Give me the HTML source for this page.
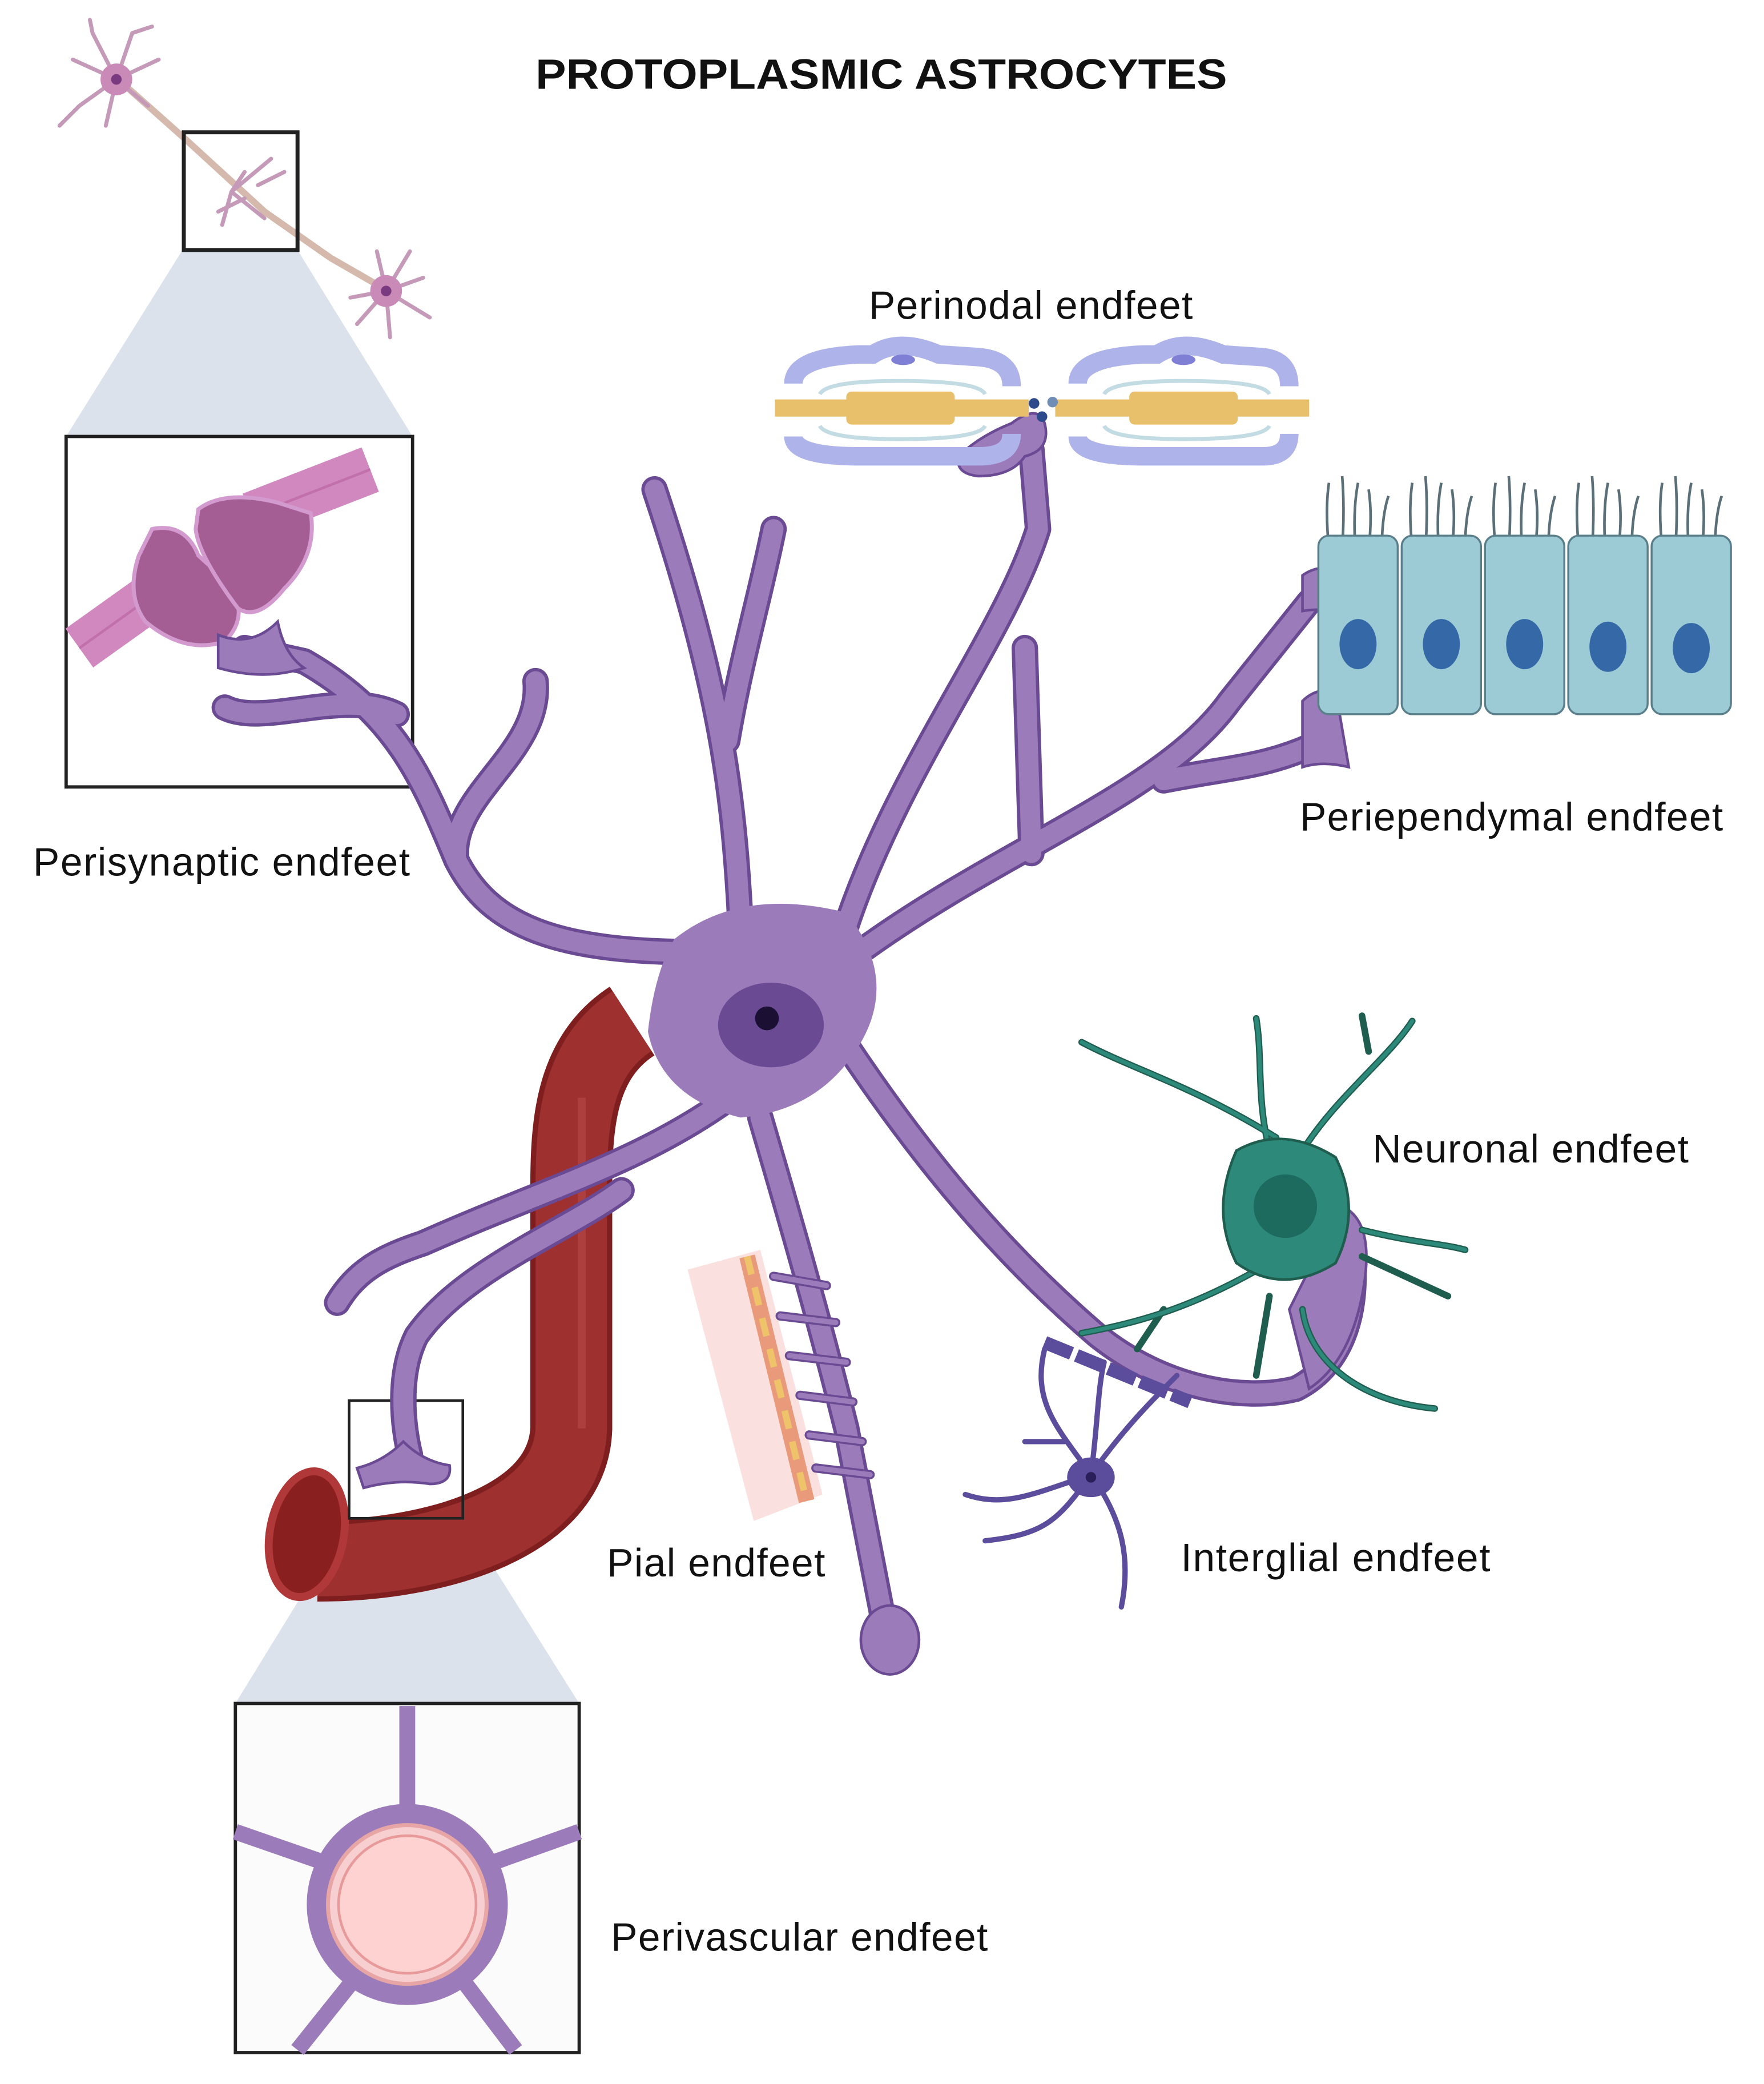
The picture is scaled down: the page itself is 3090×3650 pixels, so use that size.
<!DOCTYPE html>
<html><head><meta charset="utf-8"><style>
html,body{margin:0;padding:0;background:#fff;}
svg{display:block;}
text{font-family:"Liberation Sans",sans-serif;fill:#111;}
</style></head><body>
<svg width="3090" height="3650" viewBox="0 0 1334 1575.7" xmlns="http://www.w3.org/2000/svg">
<rect width="1334" height="1576" fill="#fff"/>
<text x="405" y="67" font-size="32" font-weight="bold" textLength="523" lengthAdjust="spacingAndGlyphs">PROTOPLASMIC ASTROCYTES</text>

<!-- trapezoids -->
<polygon points="138,189 225,189 312,330 50,330" fill="#dbe2ec"/>
<polygon points="264,1148 350,1148 438,1288 178,1288" fill="#dbe2ec"/>

<!-- top neurons -->
<g stroke="#c49ab8" fill="none" stroke-linecap="round">
<path d="M95,65 L140,105 L200,160 L250,195 L290,218" stroke="#d6b9ad" stroke-width="5"/>
<g stroke-width="3">
<path d="M88,60 L55,45 M88,60 L60,80 M88,60 L70,25 M88,60 L100,25 M88,60 L120,45 M88,60 L112,80 M88,60 L80,95 M100,25 L115,20 M60,80 L45,95 M70,25 L68,15"/>
<path d="M292,220 L270,245 M292,220 L320,210 M292,220 L310,190 M292,220 L285,190 M292,220 L325,240 M292,220 L295,255 M292,220 L265,225"/>
<path d="M175,145 L205,120 M175,145 L185,130 M175,145 L168,170 M175,145 L200,165 M185,150 L165,160 M195,140 L215,130"/>
</g></g>
<circle cx="88" cy="60" r="12" fill="#c98ab8"/><circle cx="88" cy="60" r="4" fill="#7a3a80"/>
<circle cx="292" cy="220" r="12" fill="#c98ab8"/><circle cx="292" cy="220" r="4" fill="#7a3a80"/>
<rect x="139" y="100" width="86" height="89" fill="none" stroke="#222" stroke-width="3"/>

<!-- perisynaptic box -->
<rect x="50" y="330" width="262" height="265" fill="#fff" stroke="#222" stroke-width="2.5"/>
<path d="M60,490 L130,440 M190,390 L280,355" stroke="#d088bf" stroke-width="36" stroke-linecap="butt"/>
<path d="M60,490 L130,440 M190,390 L280,355" stroke="#b7609f" stroke-width="2" stroke-opacity="0.6"/>
<path d="M115,400 Q140,395 150,420 L172,440 Q190,465 170,485 Q140,495 110,470 Q95,450 105,420 Z" fill="#a45e94" stroke="#d39ad0" stroke-width="3"/>
<path d="M150,385 Q170,370 210,380 L235,388 Q240,420 215,445 Q195,470 180,460 Q150,420 148,400 Z" fill="#a45e94" stroke="#d39ad0" stroke-width="3"/>

<!-- blood vessel -->
<path d="M478,772 C435,800 432,850 432,900 L432,1080 C430,1150 330,1180 240,1180" fill="none" stroke="#7f1e1e" stroke-width="62"/>
<path d="M478,772 C435,800 432,850 432,900 L432,1080 C430,1150 330,1180 240,1180" fill="none" stroke="#9e3030" stroke-width="54"/>
<path d="M440,830 L440,1080" stroke="#b84a4a" stroke-width="6" opacity="0.6"/>
<ellipse cx="232" cy="1160" rx="28" ry="48" fill="#8a1f1f" stroke="#b03838" stroke-width="6" transform="rotate(10 232 1160)"/>
<rect x="264" y="1059" width="86" height="89" fill="none" stroke="#222" stroke-width="2"/>

<!-- pial -->
<polygon points="520,960 575,945 622,1130 570,1150" fill="#fbe0e0"/>
<path d="M565,950 L610,1135" stroke="#e89a7a" stroke-width="12"/>
<path d="M565,950 L610,1135" stroke="#eec36a" stroke-width="5" stroke-dasharray="14 10"/>

<!-- astrocyte processes -->
<g fill="none" stroke-linecap="round" stroke-linejoin="round">
<g stroke="#6a4a93" stroke-width="20">
<path d="M530,720 C420,720 370,700 345,650 C320,590 300,540 230,500 L185,490"/>
<path d="M300,540 C260,520 200,550 170,535"/>
<path d="M345,650 C340,600 410,570 405,515"/>
<path d="M560,700 C555,600 545,520 495,370"/>
<path d="M550,560 C560,500 575,450 585,400"/>
<path d="M640,700 C680,580 760,480 785,400 L780,340"/>
<path d="M650,720 C760,640 880,600 930,530 L990,455"/>
<path d="M880,590 C930,580 960,580 1000,560"/>
<path d="M780,645 L775,490"/>
<path d="M640,790 C700,880 760,950 830,1010 C880,1050 940,1060 980,1050 C1020,1030 1030,980 1020,930"/>
<path d="M575,845 C600,930 620,1000 640,1080 L670,1235"/>
<path d="M545,835 C480,880 410,900 320,940 C290,950 270,960 255,985"/>
<path d="M470,900 C430,930 350,960 315,1010 C300,1040 305,1080 310,1100"/>
</g>
<g stroke="#9b7bb9" stroke-width="15">
<path d="M530,720 C420,720 370,700 345,650 C320,590 300,540 230,500 L185,490"/>
<path d="M300,540 C260,520 200,550 170,535"/>
<path d="M345,650 C340,600 410,570 405,515"/>
<path d="M560,700 C555,600 545,520 495,370"/>
<path d="M550,560 C560,500 575,450 585,400"/>
<path d="M640,700 C680,580 760,480 785,400 L780,340"/>
<path d="M650,720 C760,640 880,600 930,530 L990,455"/>
<path d="M880,590 C930,580 960,580 1000,560"/>
<path d="M780,645 L775,490"/>
<path d="M640,790 C700,880 760,950 830,1010 C880,1050 940,1060 980,1050 C1020,1030 1030,980 1020,930"/>
<path d="M575,845 C600,930 620,1000 640,1080 L670,1235"/>
<path d="M545,835 C480,880 410,900 320,940 C290,950 270,960 255,985"/>
<path d="M470,900 C430,930 350,960 315,1010 C300,1040 305,1080 310,1100"/>
</g>
<path d="M585,965 L625,972 M590,995 L632,1000 M597,1025 L640,1030 M605,1055 L645,1060 M612,1085 L652,1090 M617,1110 L658,1115" stroke="#6a4a93" stroke-width="7"/>
<path d="M585,965 L625,972 M590,995 L632,1000 M597,1025 L640,1030 M605,1055 L645,1060 M612,1085 L652,1090 M617,1110 L658,1115" stroke="#9b7bb9" stroke-width="4"/>
</g>
<!-- endfeet -->
<g fill="#9b7bb9" stroke="#6a4a93" stroke-width="2">
<path d="M165,480 Q190,490 210,470 Q215,495 230,505 Q200,515 165,505 Z"/>
<path d="M725,345 Q740,330 765,320 Q785,305 790,320 Q795,340 775,345 Q765,360 740,360 Q722,358 725,345 Z"/>
<path d="M985,435 Q995,428 1005,430 L1008,462 Q995,460 985,462 Z"/>
<path d="M985,530 Q995,520 1010,522 L1020,580 Q1000,575 985,580 Z"/>
<path d="M1020,915 Q1040,930 1030,980 Q1020,1030 990,1050 L975,990 Q990,960 1010,920 Z"/>
<path d="M270,1110 Q290,1105 305,1090 Q320,1105 340,1108 Q342,1122 325,1122 Q300,1118 275,1125 Z"/>
<ellipse cx="673" cy="1240" rx="22" ry="26"/>
</g>
<!-- soma -->
<path d="M510,710 Q560,670 640,690 Q680,740 650,790 Q620,840 560,845 Q500,830 490,780 Q495,735 510,710 Z" fill="#9b7bb9"/>
<ellipse cx="583" cy="775" rx="40" ry="32" fill="#6b4a94"/>
<circle cx="580" cy="770" r="9" fill="#1b1033"/>

<!-- perinodal -->
<g>
<path d="M600,290 Q600,270 650,268 L660,268 Q680,255 710,268 L740,270 Q765,272 765,292" fill="none" stroke="#aeb3ea" stroke-width="14"/>
<path d="M600,330 Q600,345 650,345 L740,345 Q765,345 765,328" fill="none" stroke="#aeb3ea" stroke-width="14"/>
<path d="M815,290 Q815,270 865,268 L875,268 Q895,255 925,268 L955,270 Q975,272 975,292" fill="none" stroke="#aeb3ea" stroke-width="14"/>
<path d="M815,330 Q815,345 865,345 L955,345 Q975,345 975,328" fill="none" stroke="#aeb3ea" stroke-width="14"/>
<path d="M620,298 Q625,288 680,288 Q740,288 745,298 M620,322 Q625,332 680,332 Q740,332 745,322 M835,298 Q840,288 895,288 Q955,288 960,298 M835,322 Q840,332 895,332 Q955,332 960,322" fill="none" stroke="#c3dbe3" stroke-width="3"/>
<ellipse cx="683" cy="272" rx="9" ry="4" fill="#7f7fd6"/><ellipse cx="895" cy="272" rx="9" ry="4" fill="#7f7fd6"/>
<rect x="586" y="302" width="192" height="13" fill="#e8bf6a"/>
<rect x="798" y="302" width="192" height="13" fill="#e8bf6a"/>
<rect x="640" y="296" width="82" height="25" rx="4" fill="#e8bf6a"/>
<rect x="854" y="296" width="82" height="25" rx="4" fill="#e8bf6a"/>
<circle cx="782" cy="305" r="4" fill="#2d4b8a"/><circle cx="796" cy="304" r="4" fill="#6f8db5"/><circle cx="788" cy="315" r="4" fill="#2d4b8a"/>
</g>

<!-- ependymal -->
<g>
<g fill="none" stroke="#5a6f78" stroke-width="2">
<path d="M1005,415 q-3,-30 0,-50 M1015,415 q2,-30 0,-55 M1025,415 q-2,-30 2,-50 M1035,415 q3,-25 0,-45 M1045,415 q0,-25 5,-40"/>
<path d="M1068,415 q-3,-30 0,-50 M1078,415 q2,-30 0,-55 M1088,415 q-2,-30 2,-50 M1098,415 q3,-25 0,-45 M1108,415 q0,-25 5,-40"/>
<path d="M1131,415 q-3,-30 0,-50 M1141,415 q2,-30 0,-55 M1151,415 q-2,-30 2,-50 M1161,415 q3,-25 0,-45 M1171,415 q0,-25 5,-40"/>
<path d="M1194,415 q-3,-30 0,-50 M1204,415 q2,-30 0,-55 M1214,415 q-2,-30 2,-50 M1224,415 q3,-25 0,-45 M1234,415 q0,-25 5,-40"/>
<path d="M1257,415 q-3,-30 0,-50 M1267,415 q2,-30 0,-55 M1277,415 q-2,-30 2,-50 M1287,415 q3,-25 0,-45 M1297,415 q0,-25 5,-40"/>
</g>
<g fill="#9ccbd6" stroke="#5a7f8a" stroke-width="1.5">
<rect x="997" y="405" width="60" height="135" rx="8"/>
<rect x="1060" y="405" width="60" height="135" rx="8"/>
<rect x="1123" y="405" width="60" height="135" rx="8"/>
<rect x="1186" y="405" width="60" height="135" rx="8"/>
<rect x="1249" y="405" width="60" height="135" rx="8"/>
</g>
<g fill="#3468a6">
<ellipse cx="1027" cy="487" rx="14" ry="19"/><ellipse cx="1090" cy="487" rx="14" ry="19"/><ellipse cx="1153" cy="487" rx="14" ry="19"/><ellipse cx="1216" cy="489" rx="14" ry="19"/><ellipse cx="1279" cy="490" rx="14" ry="19"/>
</g>
</g>

<!-- green neuron -->
<g stroke="#1f5e4f" fill="none" stroke-width="5" stroke-linecap="round">
<path d="M960,870 C950,830 955,800 950,770 M965,860 C900,820 860,810 818,788 M985,870 C1010,830 1050,800 1068,772 M1035,795 L1030,768 M1030,930 C1070,940 1090,940 1108,945 M1030,950 L1095,980 M960,955 C900,990 860,1000 818,1008 M880,990 L860,1020 M985,990 C990,1030 1030,1060 1085,1065 M960,980 L950,1040"/>
</g>
<g stroke="#2d8a7a" fill="none" stroke-width="3" stroke-linecap="round">
<path d="M960,870 C950,830 955,800 950,770 M965,860 C900,820 860,810 818,788 M985,870 C1010,830 1050,800 1068,772 M1030,930 C1070,940 1090,940 1108,945 M960,955 C900,990 860,1000 818,1008 M985,990 C990,1030 1030,1060 1085,1065"/>
</g>
<path d="M935,870 Q970,850 1010,875 Q1030,915 1010,955 Q970,980 935,955 Q915,915 935,870 Z" fill="#2d8a7a" stroke="#1f5e4f" stroke-width="2"/>
<circle cx="972" cy="912" r="24" fill="#1d6b5e"/>

<!-- interglial -->
<g stroke="#5c4c9c" stroke-width="4" fill="none" stroke-linecap="round">
<path d="M825,1115 C800,1080 780,1060 790,1020 M825,1115 C850,1080 870,1060 890,1040 M825,1115 C780,1130 760,1140 730,1130 M825,1115 C850,1150 855,1180 848,1215 M825,1115 C800,1150 790,1160 745,1165 M825,1115 C830,1080 830,1050 835,1030 M805,1090 L775,1090"/>
</g>
<ellipse cx="825" cy="1117" rx="18" ry="15" fill="#5c4c9c"/><circle cx="825" cy="1117" r="4" fill="#2a1f5a"/>
<path d="M790,1015 L900,1060" stroke="#5c4c9c" stroke-width="10" stroke-dasharray="22 4"/>

<!-- perivascular box -->
<rect x="178" y="1288" width="260" height="264" fill="#fbfbfb" stroke="#222" stroke-width="2.5"/>
<g stroke="#9b7bb9" stroke-width="12" stroke-linecap="butt">
<path d="M308,1290 L308,1372 M178,1385 L250,1410 M438,1385 L368,1410 M225,1550 L265,1500 M390,1550 L352,1500"/>
</g>
<circle cx="308" cy="1440" r="68" fill="none" stroke="#9b7bb9" stroke-width="16"/>
<circle cx="308" cy="1440" r="60" fill="#f7cfd0" stroke="#e8a5a5" stroke-width="3"/>
<circle cx="308" cy="1440" r="52" fill="#ffd2d2" stroke="#e89a9a" stroke-width="2"/>

<!-- labels -->
<g font-size="30" lengthAdjust="spacingAndGlyphs">
<text x="657" y="241" textLength="245">Perinodal endfeet</text>
<text x="983" y="628" textLength="320">Periependymal endfeet</text>
<text x="25" y="662" textLength="285">Perisynaptic endfeet</text>
<text x="1038" y="879" textLength="239">Neuronal endfeet</text>
<text x="893" y="1188" textLength="234">Interglial endfeet</text>
<text x="459" y="1192" textLength="165">Pial endfeet</text>
<text x="462" y="1475" textLength="285">Perivascular endfeet</text>
</g>
</svg>
</body></html>
